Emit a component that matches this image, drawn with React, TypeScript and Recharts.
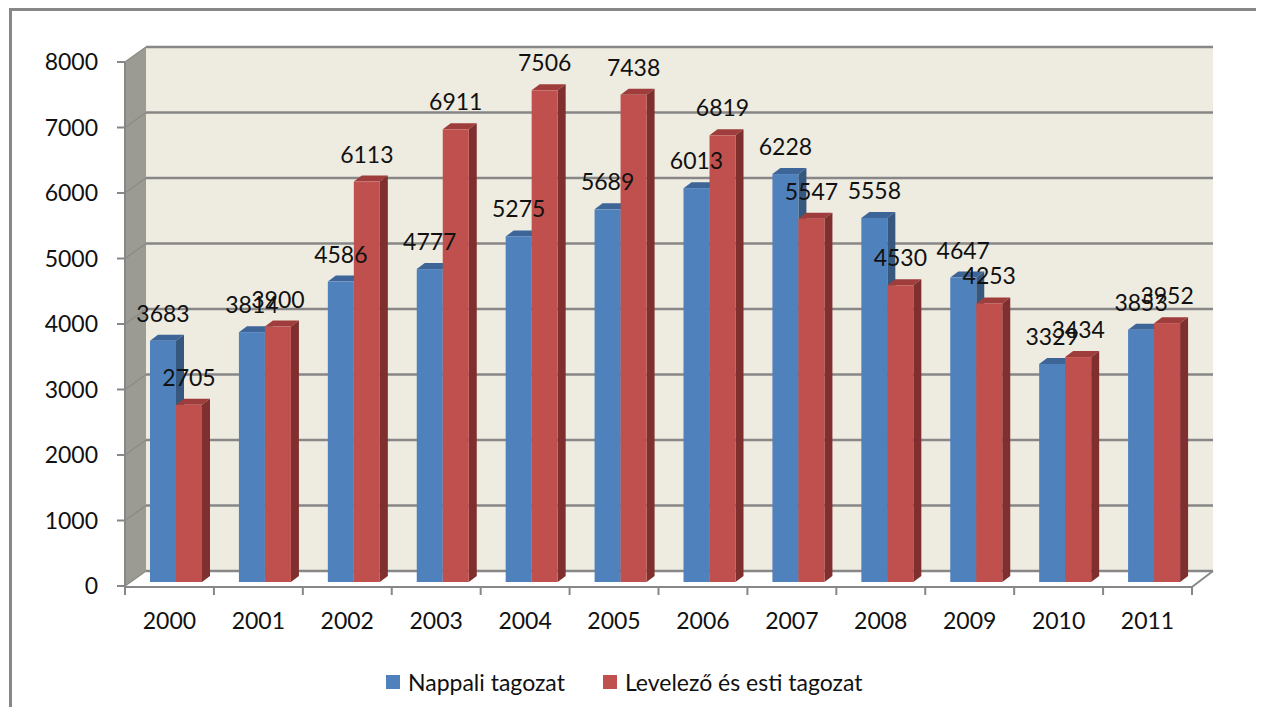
import { BarChart, Bar, XAxis, YAxis, Legend, LabelList, ReferenceArea } from "recharts";

const years = ["2000", "2001", "2002", "2003", "2004", "2005", "2006", "2007", "2008", "2009", "2010", "2011"];
const nappali = [3683, 3814, 4586, 4777, 5275, 5689, 6013, 6228, 5558, 4647, 3329, 3853];
const levelezo = [2705, 3900, 6113, 6911, 7506, 7438, 6819, 5547, 4530, 4253, 3434, 3952];
const yTicks = [0, 1000, 2000, 3000, 4000, 5000, 6000, 7000, 8000];
const seriesNames = ["Nappali tagozat", "Levelező és esti tagozat"];

const data = years.map((year, i) => ({ year, nappali: nappali[i], levelezo: levelezo[i] }));

const FONT = "Lato, 'Open Sans', sans-serif";
const GRID = "#878787";
// depth of the box walls
const DX = 21;
const DY = 15;
// bars sit a bit inside the box
const BX = 7;
const BY = -4;
// depth of each bar
const BD = 8;
const BDY = 6;

function Box(props: any) {
  const { x, y, width, height } = props;
  const bottom = y + height;
  const n = years.length;
  const yOf = (v: number) => bottom - (v / 8000) * height;
  return (
    <g>
      <rect x={x + DX} y={y - DY} width={width} height={height} fill="#EEEBE0" />
      <polygon
        points={`${x},${bottom} ${x + width},${bottom} ${x + width + DX},${bottom - DY} ${x + DX},${bottom - DY}`}
        fill="#ffffff"
      />
      <polygon
        points={`${x},${y} ${x + DX},${y - DY} ${x + DX},${bottom - DY} ${x},${bottom}`}
        fill="#9B9B93"
      />
      {yTicks.map((v) => (
        <g key={v}>
          <line x1={x} y1={yOf(v)} x2={x + DX} y2={yOf(v) - DY} stroke="#8c8c86" strokeWidth={1.5} />
          <line x1={x + DX} y1={yOf(v) - DY} x2={x + DX + width} y2={yOf(v) - DY} stroke={GRID} strokeWidth={2.5} />
        </g>
      ))}
      <line x1={x} y1={bottom + 1} x2={x + width} y2={bottom + 1} stroke={GRID} strokeWidth={2} />
      <line x1={x + width} y1={bottom + 1} x2={x + width + DX} y2={bottom - DY} stroke={GRID} strokeWidth={2} />
      {Array.from({ length: n + 1 }, (_, i) => (
        <line
          key={i}
          x1={x + (i * width) / n}
          y1={bottom}
          x2={x + (i * width) / n}
          y2={bottom + 9}
          stroke={GRID}
          strokeWidth={2}
        />
      ))}
    </g>
  );
}

const makeBar = (front: string, top: string, side: string) => (props: any) => {
  const { x, y, width, height } = props;
  if (width == null || height == null || height <= 0) return <g />;
  const X = x + BX;
  const Y = y + BY;
  const W = width;
  const H = height;
  return (
    <g>
      <polygon points={`${X},${Y} ${X + BD},${Y - BDY} ${X + W + BD},${Y - BDY} ${X + W},${Y}`} fill={top} />
      <polygon points={`${X + W},${Y} ${X + W + BD},${Y - BDY} ${X + W + BD},${Y + H - BDY} ${X + W},${Y + H}`} fill={side} />
      <rect x={X} y={Y} width={W} height={H} fill={front} />
    </g>
  );
};

const renderLabel = (props: any) => {
  const x = Number(props.x);
  const y = Number(props.y);
  const width = Number(props.width);
  return (
    <text x={x + width / 2 + BX} y={y + BY - 19} textAnchor="middle" fontFamily={FONT} fontSize={23} fill="#111">
      {props.value}
    </text>
  );
};

const renderLegend = () => (
  <div style={{ display: "flex", alignItems: "center", fontFamily: FONT, fontSize: 23, color: "#111", gap: 38 }}>
    {seriesNames.map((name, i) => (
      <div key={name} style={{ display: "flex", alignItems: "center" }}>
        <span
          style={{
            display: "inline-block",
            width: 14,
            height: 14,
            marginRight: 8,
            background: i === 0 ? "#4F81BD" : "#C0504D"
          }}
        />
        <span>{name}</span>
      </div>
    ))}
  </div>
);

export default function App() {
  return (
    <div style={{ position: "relative", width: 1254, height: 699 }}>
      <style>{`body{overflow:hidden}`}</style>
      <div
        style={{
          position: "absolute",
          left: 1,
          top: 0,
          width: 1254,
          height: 699,
          boxSizing: "border-box",
          borderTop: `3px solid ${GRID}`,
          borderLeft: `3px solid ${GRID}`,
          borderRight: `3px solid ${GRID}`
        }}
      />
      <BarChart
        width={1254}
        height={699}
        data={data}
        margin={{ top: 54, right: 70, bottom: 81, left: 57 }}
        barGap={0}
        barSize={26}
      >
        <ReferenceArea y1={0} y2={8000} shape={<Box />} ifOverflow="visible" />
        <XAxis
          dataKey="year"
          axisLine={false}
          tickLine={false}
          tickSize={0}
          tickMargin={27}
          height={40}
          tick={{ fontFamily: FONT, fontSize: 23, fill: "#111" }}
        />
        <YAxis
          domain={[0, 8000]}
          ticks={yTicks}
          width={60}
          axisLine={{ stroke: GRID, strokeWidth: 2 }}
          tickLine={{ stroke: GRID, strokeWidth: 2 }}
          tickSize={8}
          tickMargin={19}
          tick={{ fontFamily: FONT, fontSize: 23, fill: "#111" }}
        />
        <Legend
          verticalAlign="middle"
          align="center"
          wrapperStyle={{ position: "absolute", left: 378, top: 660, width: "auto" }}
          content={renderLegend}
        />
        <Bar dataKey="nappali" name={seriesNames[0]} fill="#4F81BD" isAnimationActive={false}
          shape={makeBar("#4F81BD", "#3D6598", "#36587F")}>
          <LabelList dataKey="nappali" content={renderLabel} />
        </Bar>
        <Bar dataKey="levelezo" name={seriesNames[1]} fill="#C0504D" isAnimationActive={false}
          shape={makeBar("#C0504D", "#9E3D3B", "#7E2F2E")}>
          <LabelList dataKey="levelezo" content={renderLabel} />
        </Bar>
      </BarChart>
    </div>
  );
}
